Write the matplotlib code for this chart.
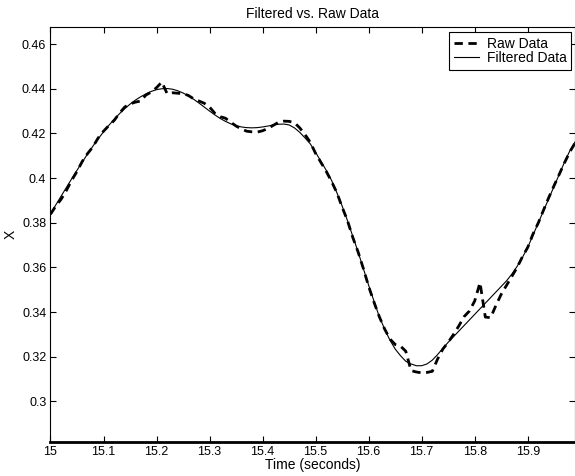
import numpy as np
import matplotlib
matplotlib.use("Agg")
import matplotlib.pyplot as plt

# time axis, 0.01 s steps from 15.00 to 15.99
t = np.round(np.arange(15.00, 15.995, 0.01), 2)

filtered = [
    0.3840, 0.3880, 0.3919, 0.3958, 0.3997, 0.4035, 0.4072, 0.4108, 0.4143, 0.4176,
    0.4207, 0.4236, 0.4263, 0.4288, 0.4311, 0.4331, 0.4349, 0.4364, 0.4377, 0.4388,
    0.4396, 0.4400, 0.4401, 0.4398, 0.4391, 0.4381, 0.4368, 0.4353, 0.4336, 0.4318,
    0.4300, 0.4283, 0.4267, 0.4254, 0.4243, 0.4235, 0.4229, 0.4226, 0.4225, 0.4226,
    0.4229, 0.4233, 0.4238, 0.4241, 0.4242, 0.4238, 0.4225, 0.4205, 0.4180, 0.4153,
    0.4115, 0.4075, 0.4035, 0.3990, 0.3935, 0.3875, 0.3810, 0.3740, 0.3670, 0.3595,
    0.3520, 0.3450, 0.3380, 0.3325, 0.3275, 0.3235, 0.3205, 0.3180, 0.3168, 0.3160,
    0.3160, 0.3168, 0.3185, 0.3210, 0.3238, 0.3265, 0.3290, 0.3315, 0.3340, 0.3365,
    0.3390, 0.3415, 0.3440, 0.3465, 0.3490, 0.3515, 0.3540, 0.3570, 0.3605, 0.3645,
    0.3690, 0.3745, 0.3800, 0.3855, 0.3910, 0.3965, 0.4020, 0.4075, 0.4125, 0.4165,
]

raw = [
    0.3838, 0.3875, 0.3905, 0.3945, 0.3990, 0.4030, 0.4075, 0.4110, 0.4140, 0.4180,
    0.4210, 0.4235, 0.4258, 0.4290, 0.4318, 0.4332, 0.4340, 0.4345, 0.4372, 0.4385,
    0.4405, 0.4430, 0.4378, 0.4382, 0.4380, 0.4378, 0.4370, 0.4355, 0.4345, 0.4335,
    0.4318, 0.4290, 0.4275, 0.4268, 0.4250, 0.4233, 0.4220, 0.4210, 0.4207, 0.4206,
    0.4212, 0.4222, 0.4236, 0.4250, 0.4255, 0.4254, 0.4248, 0.4225, 0.4195, 0.4160,
    0.4110, 0.4070, 0.4030, 0.3985, 0.3935, 0.3870, 0.3810, 0.3735, 0.3670, 0.3595,
    0.3515, 0.3445, 0.3380, 0.3325, 0.3280, 0.3255, 0.3248, 0.3225, 0.3138, 0.3132,
    0.3128, 0.3130, 0.3135, 0.3190, 0.3235, 0.3265, 0.3300, 0.3338, 0.3380, 0.3405,
    0.3450, 0.3532, 0.3378, 0.3375, 0.3430, 0.3480, 0.3520, 0.3560, 0.3600, 0.3648,
    0.3690, 0.3750, 0.3800, 0.3858, 0.3915, 0.3968, 0.4020, 0.4072, 0.4120, 0.4160,
]

xticks = [15.0, 15.1, 15.2, 15.3, 15.4, 15.5, 15.6, 15.7, 15.8, 15.9]
xticklabels = ["15", "15.1", "15.2", "15.3", "15.4", "15.5", "15.6", "15.7", "15.8", "15.9"]
yticks = [0.30, 0.32, 0.34, 0.36, 0.38, 0.40, 0.42, 0.44, 0.46]
yticklabels = ["0.3", "0.32", "0.34", "0.36", "0.38", "0.4", "0.42", "0.44", "0.46"]

plt.rcParams["font.family"] = ["Liberation Sans", "DejaVu Sans"]

fig = plt.figure(figsize=(5.75, 4.76), dpi=100)
ax = fig.add_axes([0.0878, 0.0721, 0.913, 0.8705])

ax.plot(t, raw, color="black", lw=2.0, ls="--", dashes=(3, 2), label="Raw Data")
ax.plot(t, filtered, color="black", lw=0.8, label="Filtered Data")

ax.set_xlim(15.0, 15.99)
ax.set_ylim(0.282, 0.4675)
ax.set_xticks(xticks)
ax.set_xticklabels(xticklabels)
ax.set_yticks(yticks)
ax.set_yticklabels(yticklabels)
ax.tick_params(direction="in", length=4, width=0.8, top=True, right=True,
               labelsize=9, pad=3)
for s in ax.spines.values():
    s.set_linewidth(0.8)
ax.spines["bottom"].set_linewidth(2.0)

ax.set_title("Filtered vs. Raw Data", fontsize=10, pad=7)
ax.set_xlabel("Time (seconds)", fontsize=10, labelpad=0)
ax.set_ylabel("X", fontsize=10, labelpad=3)

leg = ax.legend(loc="upper right", bbox_to_anchor=(0.992, 0.989), borderaxespad=0,
                fontsize=10, fancybox=False, framealpha=1, edgecolor="black",
                handlelength=1.8, handletextpad=0.55, borderpad=0.35, labelspacing=0.0)
leg.get_frame().set_linewidth(0.8)

fig.savefig("out.png", dpi=100)
